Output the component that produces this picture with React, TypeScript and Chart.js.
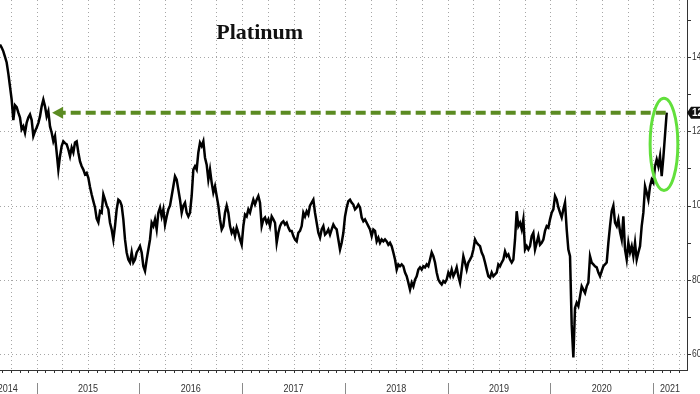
import React, { useEffect, useRef } from "react";
import { Chart, registerables } from "chart.js";

Chart.register(...registerables);

// ---- data ----
const START_YEAR = 2014.643; // first observation (decimal year)
const STEP_YEARS = 0.016221; // ~6 days between observations
const PRICES: number[] = [
  1433, 1425, 1415, 1400, 1385, 1355, 1320, 1285, 1230, 1270,
  1265, 1250, 1237, 1205, 1213, 1196, 1223, 1237, 1245, 1230,
  1187, 1200, 1210, 1222, 1240, 1267, 1285, 1267, 1240, 1254,
  1213, 1196, 1173, 1187, 1143, 1097, 1133, 1160, 1173, 1168,
  1165, 1151, 1133, 1156, 1143, 1170, 1173, 1143, 1119, 1106,
  1097, 1084, 1088, 1075, 1050, 1030, 1012, 995, 965, 955,
  985, 981, 1030, 1016, 1000, 990, 954, 936, 909, 945,
  990, 1016, 1012, 1000, 963, 909, 874, 855, 847, 874,
  847, 855, 874, 882, 891, 874, 837, 824, 855, 882,
  909, 954, 945, 963, 936, 981, 995, 971, 990, 949,
  971, 990, 1000, 1026, 1052, 1079, 1070, 1043, 1016, 981,
  1000, 1008, 981, 971, 981, 1026, 1097, 1106, 1097, 1143,
  1169, 1160, 1173, 1129, 1110, 1070, 1097, 1062, 1035, 1052,
  1026, 1000, 963, 936, 945, 981, 1000, 981, 945, 927,
  936, 918, 941, 927, 909, 895, 945, 976, 971, 990,
  981, 1000, 1016, 1003, 1016, 1026, 1008, 945, 963, 968,
  954, 963, 945, 971, 963, 954, 900, 927, 945, 954,
  958, 949, 954, 941, 932, 932, 918, 909, 904, 927,
  932, 945, 981, 971, 985, 976, 1000, 1008, 1016, 981,
  954, 927, 914, 936, 945, 922, 927, 936, 922, 936,
  949, 941, 936, 909, 882, 900, 927, 971, 995, 1012,
  1016, 1008, 1003, 990, 995, 1003, 995, 968, 958, 963,
  954, 945, 936, 918, 936, 932, 904, 914, 900, 909,
  904, 909, 904, 895, 900, 891, 874, 855, 828, 842,
  837, 842, 837, 820, 810, 793, 774, 793, 783, 801,
  810, 828, 834, 828, 837, 834, 842, 837, 855, 874,
  864, 847, 820, 801, 793, 788, 797, 793, 801, 820,
  810, 828, 810, 820, 834, 810, 793, 828, 864, 847,
  828, 847, 855, 864, 882, 909, 900, 895, 891, 874,
  864, 847, 828, 810, 806, 820, 810, 815, 820, 842,
  837, 847, 855, 877, 864, 869, 855, 847, 855, 909,
  985, 945, 954, 936, 963, 882, 891, 882, 891, 918,
  927, 882, 900, 918, 895, 900, 909, 932, 945, 941,
  963, 981, 990, 1026, 1016, 995, 981, 968, 990, 1008,
  936, 882, 864, 680, 592, 725, 739, 730, 756, 783,
  774, 765, 783, 793, 864, 847, 842, 837, 834, 820,
  810, 824, 837, 842, 847, 900, 945, 985, 1000, 954,
  945, 963, 930, 909, 971, 882, 855, 900, 874, 891,
  864, 900, 855, 874, 891, 945, 981, 1052, 1035, 1016,
  1052, 1070, 1062, 1106, 1124, 1106, 1133, 1079, 1130, 1190,
  1250,
];

const X_MIN = 2014.643;
const X_MAX = 2021.329;
const Y_MIN = 558;
const Y_MAX = 1553;
const YEARS = [2014, 2015, 2016, 2017, 2018, 2019, 2020, 2021];
const Y_TICKS = [600, 700, 800, 900, 1000, 1100, 1200, 1300, 1400, 1500];
const Y_LABELED = [600, 800, 1000, 1200, 1400];
const TITLE = "Platinum";
const ARROW_FROM = 2015.15; // date where the dashed arrow points
const ELLIPSE_X = 2021.105;
const ELLIPSE_Y = 1165;
const ELLIPSE_HALF_YEARS = 0.135;
const ELLIPSE_HALF_VALUE = 124;

const overlayPlugin = {
  id: "overlay",
  beforeDatasetsDraw(chart: any) {
    const { ctx, chartArea: a, scales } = chart;
    const xs = scales.x;
    const ys = scales.y;
    ctx.save();
    ctx.strokeStyle = "#a6a6a6";
    ctx.lineWidth = 1;
    ctx.setLineDash([1, 3]);
    for (const v of Y_LABELED) {
      const py = Math.round(ys.getPixelForValue(v)) + 0.5;
      ctx.beginPath();
      ctx.moveTo(a.left, py);
      ctx.lineTo(a.right, py);
      ctx.stroke();
    }
    for (const yr of YEARS) {
      for (const q of [0, 0.25, 0.5, 0.75]) {
        const v = yr + q;
        if (v <= X_MIN || v >= X_MAX) continue;
        const px = Math.round(xs.getPixelForValue(v)) + 0.5;
        ctx.beginPath();
        ctx.moveTo(px, a.top);
        ctx.lineTo(px, a.bottom);
        ctx.stroke();
      }
    }
    ctx.restore();
  },
  afterDraw(chart: any) {
    const { ctx, chartArea: a, scales } = chart;
    const xs = scales.x;
    const ys = scales.y;
    ctx.save();
    ctx.setLineDash([]);

    // axis lines
    ctx.strokeStyle = "#333";
    ctx.lineWidth = 1;
    ctx.beginPath();
    ctx.moveTo(a.left, Math.round(a.bottom) + 0.5);
    ctx.lineTo(a.right + 1, Math.round(a.bottom) + 0.5);
    ctx.moveTo(Math.round(a.right) + 0.5, a.top);
    ctx.lineTo(Math.round(a.right) + 0.5, a.bottom + 1);
    ctx.stroke();

    // monthly ticks on bottom axis
    ctx.beginPath();
    for (const yr of YEARS) {
      for (let m = 0; m < 12; m++) {
        const v = yr + m / 12;
        if (v < X_MIN || v > X_MAX) continue;
        const px = Math.round(xs.getPixelForValue(v)) + 0.5;
        ctx.moveTo(px, a.bottom);
        ctx.lineTo(px, a.bottom + 3);
      }
    }
    ctx.stroke();

    // year separators and labels
    ctx.strokeStyle = "#8a8a8a";
    ctx.beginPath();
    for (const yr of YEARS) {
      if (yr <= X_MIN) continue;
      const px = Math.round(xs.getPixelForValue(yr)) + 0.5;
      ctx.moveTo(px, a.bottom + 13);
      ctx.lineTo(px, a.bottom + 24);
    }
    ctx.stroke();
    ctx.fillStyle = "#333";
    ctx.font = "11px 'Liberation Sans', Arial, sans-serif";
    ctx.textAlign = "center";
    ctx.textBaseline = "middle";
    for (const yr of YEARS) {
      const s = Math.max(yr, X_MIN);
      const e = Math.min(yr + 1, X_MAX);
      let cx = (xs.getPixelForValue(s) + xs.getPixelForValue(e)) / 2;
      if (yr < X_MIN) cx = xs.getPixelForValue(yr + 1) - 29;
      ctx.save();
      ctx.translate(cx, a.bottom + 19);
      ctx.scale(0.82, 1);
      ctx.fillText(String(yr), 0, 0);
      ctx.restore();
    }

    // right axis ticks and labels
    ctx.strokeStyle = "#333";
    ctx.beginPath();
    for (const v of Y_TICKS) {
      const py = Math.round(ys.getPixelForValue(v)) + 0.5;
      ctx.moveTo(a.right, py);
      ctx.lineTo(a.right + 4, py);
    }
    ctx.stroke();
    ctx.textAlign = "left";
    ctx.font = "10px 'Liberation Sans', Arial, sans-serif";
    for (const v of Y_LABELED) {
      const py = ys.getPixelForValue(v);
      ctx.save();
      ctx.translate(a.right + 5, py);
      ctx.scale(0.85, 1);
      ctx.fillText(String(v), 0, 0);
      ctx.restore();
    }

    // last value tag
    const last = PRICES[PRICES.length - 1];
    const ly = ys.getPixelForValue(last);
    const lastX = xs.getPixelForValue(START_YEAR + (PRICES.length - 1) * STEP_YEARS);
    ctx.fillStyle = "#111";
    ctx.beginPath();
    ctx.moveTo(a.right, ly);
    ctx.lineTo(a.right + 4, ly - 6);
    ctx.lineTo(a.right + 40, ly - 6);
    ctx.lineTo(a.right + 40, ly + 6);
    ctx.lineTo(a.right + 4, ly + 6);
    ctx.closePath();
    ctx.fill();
    ctx.fillStyle = "#fff";
    ctx.font = "bold 10px 'Liberation Sans', Arial, sans-serif";
    ctx.fillText(String(last), a.right + 5, ly + 0.5);

    // dashed green arrow
    const tipX = xs.getPixelForValue(ARROW_FROM);
    ctx.strokeStyle = "#5b8b22";
    ctx.fillStyle = "#5b8b22";
    ctx.lineWidth = 4;
    ctx.setLineDash([10, 5]);
    ctx.beginPath();
    ctx.moveTo(lastX - 1, ly);
    ctx.lineTo(tipX + 9, ly);
    ctx.stroke();
    ctx.setLineDash([]);
    ctx.beginPath();
    ctx.moveTo(tipX, ly);
    ctx.lineTo(tipX + 11, ly - 6);
    ctx.lineTo(tipX + 11, ly + 6);
    ctx.closePath();
    ctx.fill();

    // green ellipse
    const ecx = xs.getPixelForValue(ELLIPSE_X);
    const ecy = ys.getPixelForValue(ELLIPSE_Y);
    const erx = Math.abs(xs.getPixelForValue(ELLIPSE_X + ELLIPSE_HALF_YEARS) - ecx);
    const ery = Math.abs(ys.getPixelForValue(ELLIPSE_Y + ELLIPSE_HALF_VALUE) - ecy);
    ctx.strokeStyle = "#62e03c";
    ctx.lineWidth = 3;
    ctx.beginPath();
    ctx.ellipse(ecx, ecy, erx, ery, 0, 0, Math.PI * 2);
    ctx.stroke();

    // title
    ctx.fillStyle = "#111";
    ctx.font = "bold 22px 'Liberation Serif', 'Times New Roman', serif";
    ctx.textAlign = "center";
    ctx.textBaseline = "middle";
    ctx.fillText(TITLE, a.left + (a.right - a.left) * 0.378, 33);

    ctx.restore();
  },
};

export default function App() {
  const ref = useRef<HTMLCanvasElement | null>(null);
  useEffect(() => {
    if (!ref.current) return;
    const points = PRICES.map((p, i) => ({ x: START_YEAR + i * STEP_YEARS, y: p }));
    const chart = new Chart(ref.current, {
      type: "line",
      data: {
        datasets: [
          {
            data: points,
            borderColor: "#000",
            borderWidth: 2.5,
            pointRadius: 0,
            tension: 0,
            fill: false,
          },
        ],
      },
      options: {
        animation: false,
        responsive: false,
        devicePixelRatio: 1,
        layout: { padding: 0, autoPadding: false },
        plugins: { legend: { display: false }, tooltip: { enabled: false }, title: { display: false } },
        scales: {
          x: {
            type: "linear",
            min: X_MIN,
            max: X_MAX,
            position: "bottom",
            ticks: { display: false },
            grid: { display: false },
            border: { display: false },
            afterFit: (s: any) => {
              s.height = 24;
            },
          },
          y: {
            type: "linear",
            min: Y_MIN,
            max: Y_MAX,
            position: "right",
            ticks: { display: false },
            grid: { display: false },
            border: { display: false },
            afterFit: (s: any) => {
              s.width = 13;
            },
          },
        },
      },
      plugins: [overlayPlugin],
    });
    return () => chart.destroy();
  }, []);
  return (
    <div style={{ position: "absolute", left: 0, top: 0, width: 700, height: 394, background: "#fff" }}>
      <canvas ref={ref} width={700} height={394} style={{ display: "block" }} />
    </div>
  );
}
